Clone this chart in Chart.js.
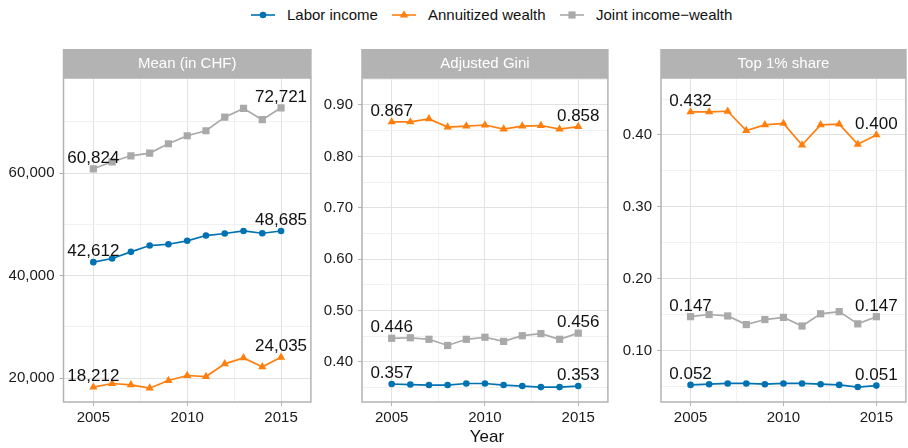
<!DOCTYPE html>
<html><head><meta charset="utf-8">
<script src="https://cdn.jsdelivr.net/npm/chart.js@4/dist/chart.umd.min.js"></script>
<style>
html,body{margin:0;padding:0;width:908px;height:448px;overflow:hidden;background:#fff;font-family:"Liberation Sans",Arial,sans-serif;}
canvas{position:absolute;top:0;}
.lg{position:absolute;font-size:15px;line-height:18px;color:#111;white-space:nowrap;}
.key{position:absolute;}
#xt{position:absolute;left:387px;width:200px;top:427px;text-align:center;font-size:17px;line-height:20px;color:#111;}
</style></head><body>
<svg class="key" style="left:251px;top:9px" width="24" height="12"><line x1="0" y1="6" x2="24" y2="6" stroke="#0072B2" stroke-width="1.6"/><circle cx="12" cy="6" r="3.3" fill="#0072B2"/></svg>
<div class="lg" style="left:287px;top:6px">Labor income</div>
<svg class="key" style="left:392px;top:9px" width="24" height="12"><line x1="0" y1="6" x2="24" y2="6" stroke="#FF7F0E" stroke-width="1.6"/><polygon points="12,1.2 16.2,8.6 7.8,8.6" fill="#FF7F0E"/></svg>
<div class="lg" style="left:428px;top:6px">Annuitized wealth</div>
<svg class="key" style="left:560px;top:9px" width="24" height="12"><line x1="0" y1="6" x2="24" y2="6" stroke="#A9A9A9" stroke-width="1.6"/><rect x="8.4" y="2.4" width="7.2" height="7.2" fill="#A9A9A9"/></svg>
<div class="lg" style="left:596px;top:6px">Joint income−wealth</div>
<canvas id="c1" width="316" height="448" style="left:0px"></canvas>
<canvas id="c2" width="297" height="448" style="left:316px"></canvas>
<canvas id="c3" width="297" height="448" style="left:614px"></canvas>
<div id="xt">Year</div>
<script>
// ---- data ----
const years = [2005, 2006, 2007, 2008, 2009, 2010, 2011, 2012, 2013, 2014, 2015];
const seriesNames = ["Labor income", "Annuitized wealth", "Joint income−wealth"];
const panelTitles = ["Mean (in CHF)", "Adjusted Gini", "Top 1% share"];

const meanLabor  = [42612, 43320, 44620, 45850, 46100, 46770, 47800, 48200, 48700, 48250, 48685];
const meanWealth = [18212, 18930, 18670, 18020, 19510, 20490, 20290, 22760, 23930, 22180, 24035];
const meanJoint  = [60824, 62190, 63360, 63880, 65710, 67270, 68250, 70900, 72600, 70400, 72721];

const giniLabor  = [0.357, 0.356, 0.355, 0.355, 0.358, 0.358, 0.355, 0.353, 0.351, 0.351, 0.353];
const giniWealth = [0.867, 0.867, 0.873, 0.857, 0.859, 0.861, 0.853, 0.859, 0.860, 0.853, 0.858];
const giniJoint  = [0.446, 0.447, 0.444, 0.432, 0.444, 0.448, 0.440, 0.451, 0.455, 0.444, 0.456];

const topLabor   = [0.052, 0.053, 0.054, 0.054, 0.053, 0.054, 0.054, 0.053, 0.052, 0.049, 0.051];
const topWealth  = [0.432, 0.432, 0.433, 0.406, 0.414, 0.416, 0.386, 0.414, 0.415, 0.387, 0.400];
const topJoint   = [0.147, 0.150, 0.148, 0.136, 0.143, 0.146, 0.134, 0.151, 0.154, 0.137, 0.147];

// ---- tick labels ----
const xMajor = [2005, 2010, 2015];
const xMinor = [2007.5, 2012.5];
const meanMajor = [20000, 40000, 60000];
const meanMinor = [30000, 50000, 70000];
const giniMajor = [0.4, 0.5, 0.6, 0.7, 0.8, 0.9];
const giniMinor = [0.35, 0.45, 0.55, 0.65, 0.75, 0.85, 0.95];
const topMajor = [0.1, 0.2, 0.3, 0.4];
const topMinor = [0.05, 0.15, 0.25, 0.35, 0.45];

// ---- styling ----
const colors = ["#0072B2", "#FF7F0E", "#A9A9A9"];
const pStyles = ["circle", "triangle", "rect"];
const pRadius = [3.3, 4.8, 5.1];
const FONT = '"Liberation Sans", Arial, sans-serif';
Chart.defaults.font.family = FONT;

const fmtMean = v => Math.round(v).toLocaleString('en-US');
const fmt3 = v => v.toFixed(3);

const panelPlugin = {
  id: 'panel',
  afterDatasetsDraw(chart, args, opts) {
    const ctx = chart.ctx, a = chart.chartArea;
    ctx.save();
    // end labels
    ctx.fillStyle = '#111';
    ctx.font = '17px ' + FONT;
    ctx.textAlign = 'center';
    ctx.textBaseline = 'alphabetic';
    chart.data.datasets.forEach((ds, i) => {
      const meta = chart.getDatasetMeta(i);
      [0, meta.data.length - 1].forEach(j => {
        const p = meta.data[j];
        ctx.fillText(opts.fmt(ds.data[j].y), p.x, p.y - 6);
      });
    });
    // panel border
    ctx.strokeStyle = '#b3b3b3';
    ctx.lineWidth = 1.5;
    ctx.strokeRect(a.left, a.top, a.right - a.left, a.bottom - a.top);
    // strip
    ctx.fillStyle = '#b3b3b3';
    ctx.fillRect(a.left - 0.75, 49, a.right - a.left + 1.5, a.top - 49);
    ctx.fillStyle = '#ffffff';
    ctx.font = '15px ' + FONT;
    ctx.textBaseline = 'middle';
    ctx.fillText(opts.title, (a.left + a.right) / 2, 64);
    ctx.restore();
  }
};

function ticksFrom(major, minor) {
  return major.concat(minor).sort((p, q) => p - q).map(v => ({ value: v }));
}

function makePanel(id, title, series, yMin, yMax, yMajor, yMinor, fmt, axisW) {
  const datasets = series.map((vals, i) => ({
    label: seriesNames[i],
    data: years.map((y, k) => ({ x: y, y: vals[k] })),
    borderColor: colors[i],
    backgroundColor: colors[i],
    borderWidth: 1.7,
    pointStyle: pStyles[i],
    pointRadius: pRadius[i],
    pointBorderWidth: 0,
    tension: 0
  }));
  const isMajX = v => xMajor.includes(v);
  const isMajY = v => yMajor.some(m => Math.abs(m - v) < 1e-9);
  new Chart(document.getElementById(id), {
    type: 'line',
    data: { datasets },
    plugins: [panelPlugin],
    options: {
      responsive: false,
      animation: false,
      devicePixelRatio: 1,
      events: [],
      layout: { padding: { top: 78, bottom: 0, left: 0, right: 0 } },
      plugins: {
        legend: { display: false },
        tooltip: { enabled: false },
        panel: { title: title, fmt: fmt }
      },
      scales: {
        x: {
          type: 'linear', min: 2003.41, max: 2016.59,
          afterBuildTicks: s => { s.ticks = ticksFrom(xMajor, xMinor); },
          afterFit: s => { s.height = 46; },
          border: { display: false },
          grid: {
            color: c => isMajX(c.tick.value) ? '#e2e2e2' : '#eeeeee',
            lineWidth: c => isMajX(c.tick.value) ? 1 : 0.8,
            tickColor: c => isMajX(c.tick.value) ? '#b3b3b3' : 'rgba(0,0,0,0)',
            tickLength: 4,
            tickWidth: 1
          },
          ticks: {
            autoSkip: false, maxRotation: 0, padding: 3,
            color: '#1a1a1a', font: { size: 15 },
            callback: v => isMajX(v) ? String(v) : ''
          }
        },
        y: {
          type: 'linear', min: yMin, max: yMax,
          afterBuildTicks: s => { s.ticks = ticksFrom(yMajor, yMinor); },
          afterFit: s => { s.width = axisW; },
          border: { display: false },
          grid: {
            color: c => isMajY(c.tick.value) ? '#e2e2e2' : '#eeeeee',
            lineWidth: c => isMajY(c.tick.value) ? 1 : 0.8,
            tickColor: c => isMajY(c.tick.value) ? '#b3b3b3' : 'rgba(0,0,0,0)',
            tickLength: 4,
            tickWidth: 1
          },
          ticks: {
            autoSkip: false, padding: 5,
            color: '#1a1a1a', font: { size: 15 },
            callback: v => isMajY(v) ? fmt(v).replace(/^(\d\.\d\d)\d$/, '$1') : ''
          }
        }
      }
    }
  });
}

makePanel('c1', panelTitles[0], [meanLabor, meanWealth, meanJoint], 15320, 78540, meanMajor, meanMinor, fmtMean, 63.5);
makePanel('c2', panelTitles[1], [giniLabor, giniWealth, giniJoint], 0.322, 0.9525, giniMajor, giniMinor, fmt3, 46);
makePanel('c3', panelTitles[2], [topLabor, topWealth, topJoint], 0.0282, 0.4793, topMajor, topMinor, fmt3, 47);
</script>
</body></html>
